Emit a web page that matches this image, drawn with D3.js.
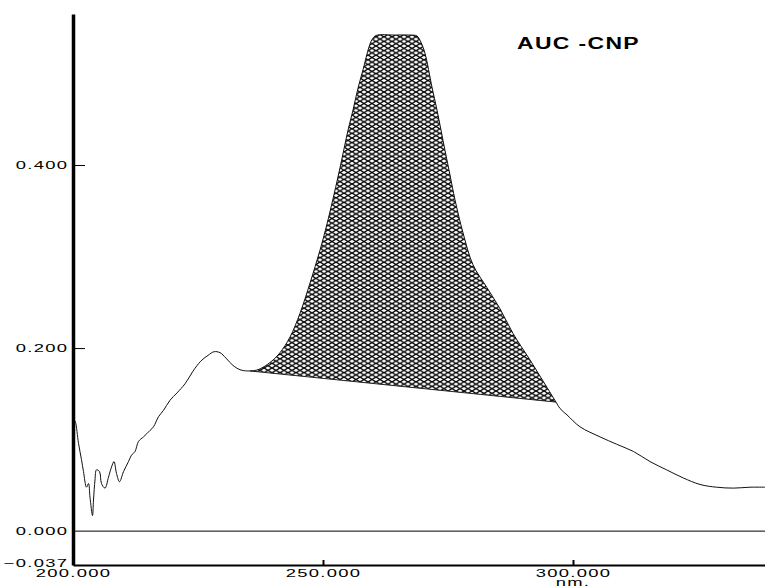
<!DOCTYPE html>
<html>
<head>
<meta charset="utf-8">
<script src="https://cdn.jsdelivr.net/npm/d3@7"></script>
<style>
  body { margin: 0; background: #fff; }
  text { font-family: "Liberation Sans", Arial, sans-serif; fill: #000; }
</style>
</head>
<body>
<script>
// spectrum
var wavelength = [200.3, 200.5, 201.1, 201.7, 202.1, 202.7, 203.1, 203.4, 203.9, 204.1,
  204.4, 204.7, 205.3, 205.7, 206.4, 207.1, 207.7, 208.2, 208.7, 209.3,
  210.1, 211.1, 211.7, 212.4, 213.1, 214.1, 215.4, 216.1, 217.1, 218.1,
  219.4, 220.8, 222.4, 224.4, 225.8, 227.0, 228.2, 229.4, 230.6, 232.0, 233.6,
  235.4, 236.8, 238.0, 239.8, 241.4, 243.4, 245.4, 247.4, 249.4, 251.0,
  253.4, 255.0, 256.0, 257.0, 258.0, 259.2, 259.8, 260.6, 264.4, 267.4,
  268.8, 269.6, 270.4, 271.8, 272.8, 274.4, 275.4, 276.4, 278.0, 280.0,
  282.8, 285.4, 288.0, 291.4, 294.8, 296.6, 297.4, 298.8, 301.4, 305.4,
  308.7, 312.1, 315.4, 318.7, 322.1, 325.4, 328.7, 332.1, 335.4, 338.4];
var absorbance = [0.121, 0.119, 0.096, 0.078, 0.065, 0.048, 0.052, 0.037, 0.017, 0.034,
  0.056, 0.067, 0.065, 0.052, 0.047, 0.059, 0.070, 0.076, 0.063, 0.054,
  0.065, 0.076, 0.083, 0.087, 0.098, 0.103, 0.110, 0.114, 0.125, 0.132,
  0.143, 0.151, 0.161, 0.178, 0.187, 0.192, 0.196, 0.195, 0.189, 0.181, 0.176,
  0.175, 0.176, 0.179, 0.186, 0.195, 0.212, 0.238, 0.271, 0.307, 0.340,
  0.397, 0.438, 0.460, 0.484, 0.504, 0.529, 0.537, 0.5415, 0.542, 0.542,
  0.541, 0.534, 0.522, 0.485, 0.460, 0.416, 0.389, 0.362, 0.326, 0.291,
  0.266, 0.243, 0.216, 0.187, 0.157, 0.141, 0.134, 0.127, 0.114, 0.103,
  0.095, 0.087, 0.076, 0.067, 0.058, 0.051, 0.048, 0.047, 0.048, 0.048];

// integration baseline (AUC)
var baselineNm = [235.4, 296.6];
var baselineAbs = [0.175, 0.141];

var xTicks = [200, 250, 300];
var yTicks = [0.4, 0.2, 0.0, -0.037];
var title = "AUC -CNP";
var xUnit = "nm.";

var W = 765, H = 586;
var svg = d3.select("body").append("svg").attr("width", W).attr("height", H);

var x = d3.scaleLinear().domain([200, 338.4]).range([73, 765]);
var y = d3.scaleLinear().domain([-0.037, 0.565]).range([565, 14]);

var pts = wavelength.map(function(d, i){ return [d, absorbance[i]]; });

// hatch pattern
var pat = svg.append("defs").append("pattern")
  .attr("id", "hatch").attr("patternUnits", "userSpaceOnUse")
  .attr("width", 8).attr("height", 4.6);
pat.append("path").attr("d", "M0,0L8,4.6M0,4.6L8,0")
  .attr("stroke", "#000").attr("stroke-width", 1.3).attr("fill", "none");

var base = d3.scaleLinear().domain(baselineNm).range(baselineAbs);
var aucPts = pts.filter(function(p){ return p[0] >= baselineNm[0] && p[0] <= baselineNm[1]; });

var curve = d3.curveCatmullRom.alpha(0.5);

var area = d3.area()
  .x(function(p){ return x(p[0]); })
  .y0(function(p){ return y(base(p[0])); })
  .y1(function(p){ return y(p[1]); })
  .curve(curve);
svg.append("path").datum(aucPts).attr("d", area)
  .attr("fill", "url(#hatch)").attr("stroke", "none");

svg.append("line")
  .attr("x1", x(baselineNm[0])).attr("y1", y(baselineAbs[0]))
  .attr("x2", x(baselineNm[1])).attr("y2", y(baselineAbs[1]))
  .attr("stroke", "#222").attr("stroke-width", 1);

// zero line
svg.append("line")
  .attr("x1", x(200)).attr("x2", W).attr("y1", y(0)).attr("y2", y(0))
  .attr("stroke", "#000").attr("stroke-width", 1);

var line = d3.line()
  .x(function(p){ return x(p[0]); })
  .y(function(p){ return y(p[1]); })
  .curve(curve);
svg.append("path").datum(pts).attr("d", line)
  .attr("fill", "none").attr("stroke", "#111").attr("stroke-width", 1);

// x axis
var gx = svg.append("g").attr("transform", "translate(0," + y(-0.037) + ")")
  .call(d3.axisBottom(x).tickValues(xTicks).tickSize(-5).tickSizeOuter(0).tickPadding(4)
    .tickFormat(d3.format(".3f")));
gx.select(".domain").attr("stroke", "#000").attr("stroke-width", 2);
gx.selectAll(".tick line").attr("stroke", "#000").attr("stroke-width", 2)
  .attr("display", function(d){ return d > 200 ? null : "none"; });
gx.selectAll(".tick text")
  .attr("font-size", 11.5).attr("letter-spacing", 0.8)
  .attr("font-family", "Liberation Sans, Arial, sans-serif")
  .attr("transform", "scale(1.6,1)");

svg.append("text").attr("x", x(300)).attr("y", 586)
  .attr("text-anchor", "middle").attr("font-size", 11.5)
  .attr("letter-spacing", 0.8)
  .attr("transform", "translate(" + x(300) + ",0) scale(1.6,1) translate(" + (-x(300)) + ",0)")
  .text(xUnit);

// y axis
var gy = svg.append("g").attr("transform", "translate(" + x(200) + ",0)")
  .call(d3.axisLeft(y).tickValues(yTicks).tickSize(-12).tickSizeOuter(0).tickPadding(3)
    .tickFormat(d3.format(".3f")));
gy.select(".domain").attr("stroke", "#000").attr("stroke-width", 3.5);
gy.selectAll(".tick line").attr("stroke", "#000").attr("stroke-width", 1)
  .attr("display", function(d){ return d > 0 ? null : "none"; });
gy.selectAll(".tick text")
  .attr("font-size", 11.5).attr("letter-spacing", 0.8)
  .attr("font-family", "Liberation Sans, Arial, sans-serif")
  .attr("transform", "scale(1.6,1)")
  .attr("dy", function(d){ return d < 0 ? "0.1em" : "0.32em"; });

// title
svg.append("text").attr("x", 0).attr("y", 0)
  .attr("transform", "translate(517,49) scale(1.35,1)")
  .attr("font-size", 17).attr("font-weight", "bold").attr("letter-spacing", 1)
  .text(title);
</script>
</body>
</html>
